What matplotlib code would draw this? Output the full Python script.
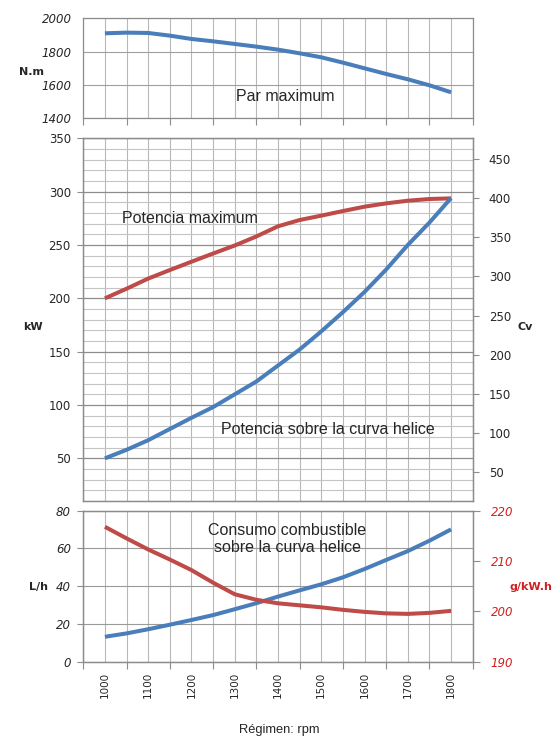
import matplotlib.pyplot as plt
from matplotlib.ticker import FixedLocator, MultipleLocator

# regimen (rpm), read every 50 rpm off the curves
rpm = [1000, 1050, 1100, 1150, 1200, 1250, 1300, 1350, 1400,
       1450, 1500, 1550, 1600, 1650, 1700, 1750, 1800]

par_max = [1910, 1914, 1912, 1896, 1876, 1862, 1846, 1830, 1812,
           1790, 1766, 1734, 1700, 1666, 1634, 1598, 1556]          # N.m

pot_max = [200, 209, 218.5, 226.5, 234.3, 242, 249.5, 258, 267.5,
           273.4, 277.5, 281.8, 285.9, 289, 291.5, 293.1, 293.7]    # kW

pot_helice = [50, 58, 67, 77.5, 88, 98, 110, 122, 137,
              152, 169, 187, 206, 227, 250, 271, 294]                # kW

consumo_lh = [13.2, 15.0, 17.2, 19.6, 22.1, 24.7, 27.8, 31.0, 34.5,
              37.8, 41.0, 44.7, 49.1, 53.9, 58.6, 64.1, 70.1]        # L/h

consumo_g = [216.8, 214.5, 212.3, 210.3, 208.2, 205.7, 203.4, 202.3, 201.6,
             201.2, 200.8, 200.3, 199.9, 199.6, 199.5, 199.7, 200.1]  # g/kW.h

KW_TO_CV = 1.36

BLUE = '#4A7EBB'
RED = '#BE4B48'
RED_TXT = '#D02020'
GRID = '#b8b8b8'
GRID_MAJ = '#8c8c8c'
SPINE = '#8c8c8c'
TXT = '#262626'

W, H = 560, 737
fig = plt.figure(figsize=(W / 100, H / 100), dpi=100)


def px(x, y):
    return x / W, 1 - y / H


def box(top, bottom):
    return [83.3 / W, 1 - bottom / H, 389.4 / W, (bottom - top) / H]


def setup_x(ax, tick_len):
    ax.set_xlim(950, 1850)
    ax.xaxis.set_major_locator(FixedLocator(rpm[::2]))
    ax.xaxis.set_minor_locator(FixedLocator(range(950, 1851, 100)))
    ax.tick_params(axis='x', which='major', length=0)
    ax.tick_params(axis='x', which='minor', length=tick_len, width=0.8,
                   color=SPINE, direction='out')
    ax.grid(axis='x', which='both', color=GRID, lw=0.8)
    for s in ax.spines.values():
        s.set_color(SPINE)
        s.set_linewidth(0.9)
    ax.set_axisbelow(True)


line = dict(lw=2.9, zorder=3, solid_joinstyle='round', solid_capstyle='butt')

# ---- Par maximum
ax1 = fig.add_axes(box(18.3, 118.3))
setup_x(ax1, 5)
ax1.tick_params(axis='x', labelbottom=False)
ax1.plot(rpm, par_max, color=BLUE, **line)
ax1.set_ylim(1400, 2000)
ax1.set_yticks([1400, 1600, 1800, 2000])
ax1.tick_params(axis='y', length=0, pad=8.5, labelsize=8.5, labelcolor=TXT)
for t in ax1.get_yticklabels():
    t.set_fontstyle('italic')
ax1.grid(axis='y', color='#a0a0a0', lw=0.8)

# ---- Potencia
ax2 = fig.add_axes(box(138.3, 501))
setup_x(ax2, 0)
ax2.tick_params(axis='x', labelbottom=False)
ax2.plot(rpm, pot_max, color=RED, **line)
ax2.plot(rpm, pot_helice, color=BLUE, **line)
ax2.set_ylim(10, 350)
ax2.set_yticks(range(50, 351, 50))
ax2.yaxis.set_minor_locator(MultipleLocator(10))
ax2.tick_params(axis='y', which='major', length=4, width=0.8, color=SPINE,
                pad=5, labelsize=8.5, labelcolor=TXT)
ax2.tick_params(axis='y', which='minor', length=0)
ax2.grid(axis='y', which='minor', color='#c4c4c4', lw=0.8)
ax2.grid(axis='y', which='major', color=GRID_MAJ, lw=0.9)

ax2r = ax2.twinx()
ax2r.set_ylim(10 * KW_TO_CV, 350 * KW_TO_CV)
ax2r.set_yticks(range(50, 451, 50))
ax2r.tick_params(axis='y', length=4.5, width=0.8, color=SPINE, pad=7,
                 labelsize=8.5, labelcolor=TXT)
for s in ax2r.spines.values():
    s.set_color(SPINE)
    s.set_linewidth(0.9)

# ---- Consumo
ax3 = fig.add_axes(box(510.7, 661.7))
setup_x(ax3, 5)
ax3.tick_params(axis='x', which='major', labelsize=7.5, labelrotation=90,
                pad=7, labelcolor=TXT)
ax3.plot(rpm, consumo_lh, color=BLUE, **line)
ax3.set_ylim(0, 80)
ax3.set_yticks(range(0, 81, 20))
ax3.tick_params(axis='y', length=4, width=0.8, color=SPINE, pad=5,
                labelsize=8.5, labelcolor=TXT)
for t in ax3.get_yticklabels():
    t.set_fontstyle('italic')
ax3.grid(axis='y', color='#9a9a9a', lw=0.8)

ax3r = ax3.twinx()
ax3r.plot(rpm, consumo_g, color=RED, **line)
ax3r.set_ylim(190, 220)
ax3r.set_yticks(range(190, 221, 10))
ax3r.tick_params(axis='y', length=5, width=0.8, color=SPINE, pad=8,
                 labelsize=8.5, labelcolor=RED_TXT)
for t in ax3r.get_yticklabels():
    t.set_fontstyle('italic')
for s in ax3r.spines.values():
    s.set_color(SPINE)
    s.set_linewidth(0.9)

# ---- texts
note = dict(family='Liberation Sans', fontsize=11.5, color=TXT,
            ha='center', va='center')
fig.text(*px(285, 96.7), 'Par maximum', **note)
fig.text(*px(190, 218.3), 'Potencia maximum', **note)
fig.text(*px(328.3, 429), 'Potencia sobre la curva helice', **note)
fig.text(*px(287.5, 538.8), 'Consumo combustible\nsobre la curva helice',
         multialignment='center', linespacing=1.15, **note)
fig.text(*px(279.5, 730), 'Régimen: rpm', family='Liberation Sans',
         fontsize=9.3, color=TXT, ha='center', va='center')

unit = dict(fontsize=8, fontweight='bold', ha='center', va='center')
fig.text(*px(31, 72), 'N.m', color=TXT, **unit)
fig.text(*px(33, 327), 'kW', color=TXT, **unit)
fig.text(*px(525, 327), 'Cv', color=TXT, **unit)
fig.text(*px(39, 587), 'L/h', color=TXT, **unit)
fig.text(*px(531, 587), 'g/kW.h', color=RED_TXT, **unit)

fig.savefig('out.png', dpi=100)
